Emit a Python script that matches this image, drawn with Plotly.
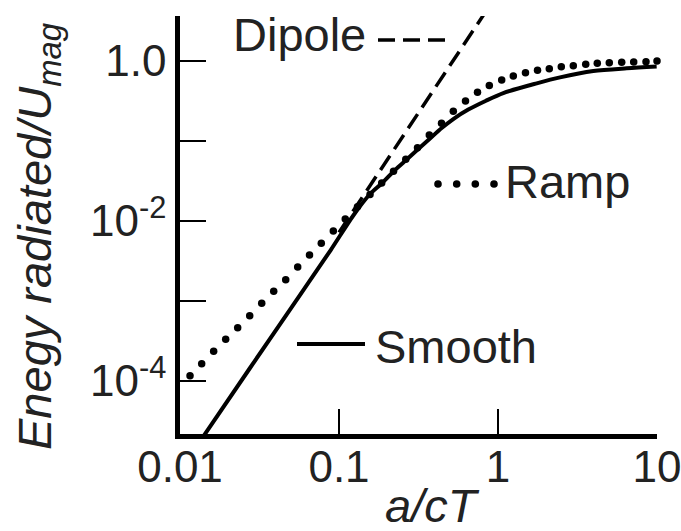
import plotly.graph_objects as go

# ---------------- data ----------------
x_tick_vals = [0.01, 0.1, 1, 10]
x_tick_text = ["0.01", "0.1", "1", "10"]
y_tick_vals = [1e-4, 1e-2, 1]
y_tick_text = ["10<sup>-4</sup>", "10<sup>-2</sup>", "1.0"]
y_minor_vals = [1e-3, 1e-1]

dipole_x = [0.10, 0.85]
dipole_y = [0.00715, 4.30]

ramp_x = [0.01156, 0.01369, 0.01628, 0.01938, 0.02306, 0.02744, 0.03265, 0.03884,
          0.04622, 0.05499, 0.06525, 0.07739, 0.09209, 0.1095, 0.1307, 0.1567,
          0.1856, 0.2202, 0.2631, 0.3117, 0.3697, 0.4413, 0.5235, 0.6246,
          0.7431, 0.8818, 1.055, 1.248, 1.489, 1.772, 2.102, 2.501,
          2.976, 3.562, 4.212, 5.012, 5.998, 7.137, 8.527, 10.0]
ramp_y = [1.155e-4, 1.632e-4, 2.331e-4, 3.293e-4, 4.597e-4, 6.494e-4, 9.279e-4, 1.311e-3,
          1.830e-3, 2.637e-3, 3.725e-3, 5.218e-3, 7.434e-3, 0.0105, 0.01496, 0.02126,
          0.02960, 0.04144, 0.05855, 0.08176, 0.1178, 0.1650, 0.2331, 0.3135,
          0.4027, 0.4898, 0.5739, 0.6440, 0.7079, 0.7586, 0.7943, 0.8414,
          0.8660, 0.9016, 0.9279, 0.9441, 0.9550, 0.9633, 0.9716, 0.9914]

smooth_x = [0.01337, 0.02756, 0.0568, 0.0887, 0.1230, 0.1567, 0.1856, 0.2250,
            0.2666, 0.3152, 0.3736, 0.4425, 0.5234, 0.6503, 0.8406, 1.080,
            1.752, 2.455, 3.976, 6.449, 9.95]
smooth_y = [1.75e-5, 1.442e-4, 1.178e-3, 4.30e-3, 0.01161, 0.02157, 0.02917, 0.04302,
            0.05821, 0.07874, 0.1065, 0.1441, 0.1867, 0.2449, 0.3165, 0.3946,
            0.522, 0.620, 0.743, 0.804, 0.846]

labels = {"dipole": "Dipole", "ramp": "Ramp", "smooth": "Smooth"}

# ---------------- layout geometry (window pixels) ----------------
W, H = 681, 531
PLOT_L, PLOT_R, PLOT_T, PLOT_B = 180, 657, 16, 434
M_L, M_T, M_R, M_B = PLOT_L, PLOT_T, W - PLOT_R, H - PLOT_B
PW, PH = PLOT_R - PLOT_L, PLOT_B - PLOT_T


def px(xpix):
    return (xpix - PLOT_L) / PW


def py(ypix):
    return (PLOT_B - ypix) / PH


FONT = "Liberation Sans, Arial, sans-serif"
TXT = "#222222"
INK = "black"

fig = go.Figure()

fig.add_trace(go.Scatter(x=smooth_x, y=smooth_y, mode="lines",
                         line=dict(color=INK, width=4, shape="spline", smoothing=0.8),
                         showlegend=False))
fig.add_trace(go.Scatter(x=dipole_x, y=dipole_y, mode="lines",
                         line=dict(color=INK, width=3.5, dash="17px,8px"),
                         showlegend=False))
fig.add_trace(go.Scatter(x=ramp_x, y=ramp_y, mode="markers",
                         marker=dict(color=INK, size=7.5), cliponaxis=False,
                         showlegend=False))

# legend keys (decoration)
shapes = [
    dict(type="line", xref="paper", yref="paper", x0=px(378), x1=px(447), y0=py(40), y1=py(40),
         line=dict(color=INK, width=3.5, dash="17px,8px")),
    dict(type="line", xref="paper", yref="paper", x0=px(297), x1=px(365), y0=py(344), y1=py(344),
         line=dict(color=INK, width=4)),
]
for cx in [438, 456.7, 475.3, 494]:
    r = 3.8
    shapes.append(dict(type="circle", xref="paper", yref="paper",
                       x0=px(cx - r), x1=px(cx + r), y0=py(184 + r), y1=py(184 - r),
                       fillcolor=INK, line=dict(width=0)))

annotations = [
    dict(text=labels["dipole"], x=px(232), y=py(35), xanchor="left", yanchor="middle"),
    dict(text=labels["ramp"], x=px(504), y=py(182), xanchor="left", yanchor="middle"),
    dict(text=labels["smooth"], x=px(374), y=py(346), xanchor="left", yanchor="middle"),
]
for a in annotations:
    a.update(xref="paper", yref="paper", showarrow=False, borderpad=0,
             font=dict(family=FONT, size=47, color=TXT))

annotations.append(dict(text="<i>a/cT</i>", x=px(432), y=py(505), xref="paper", yref="paper",
                        xanchor="center", yanchor="middle", showarrow=False, borderpad=0,
                        font=dict(family=FONT, size=47, color=TXT)))
annotations.append(dict(text="<i>Enegy radiated/U<sub>mag</sub></i>", x=px(38), y=py(237),
                        xref="paper", yref="paper", xanchor="center", yanchor="middle",
                        textangle=-90, showarrow=False, borderpad=0,
                        font=dict(family=FONT, size=47, color=TXT)))

fig.update_layout(
    width=W, height=H,
    margin=dict(l=M_L, r=M_R, t=M_T, b=M_B, pad=0, autoexpand=False),
    paper_bgcolor="white", plot_bgcolor="white",
    shapes=shapes, annotations=annotations,
    showlegend=False,
)
fig.update_xaxes(type="log", range=[-2, 1], tickvals=x_tick_vals, ticktext=x_tick_text,
                 ticks="inside", ticklen=25, tickwidth=2, tickcolor=INK, automargin=False,
                 ticklabelstandoff=-10, ticklabeloverflow="allow",
                 showline=True, linewidth=4.5, linecolor=INK, showgrid=False, zeroline=False,
                 tickfont=dict(family=FONT, size=44, color=TXT))
fig.update_yaxes(type="log", range=[-4.666, 0.559], tickvals=y_tick_vals, ticktext=y_tick_text,
                 ticks="inside", ticklen=26, tickwidth=2, tickcolor=INK, automargin=False,
                 minor=dict(tickmode="array", tickvals=y_minor_vals, ticks="inside",
                            ticklen=26, tickwidth=2, tickcolor=INK, showgrid=False),
                 ticklabeloverflow="allow",
                 showline=True, linewidth=4.5, linecolor=INK, showgrid=False, zeroline=False,
                 tickfont=dict(family=FONT, size=44, color=TXT))

fig.write_html("out.html", config={"displayModeBar": False},
               post_script="document.body.style.margin='0px';document.body.style.overflow='hidden';")
